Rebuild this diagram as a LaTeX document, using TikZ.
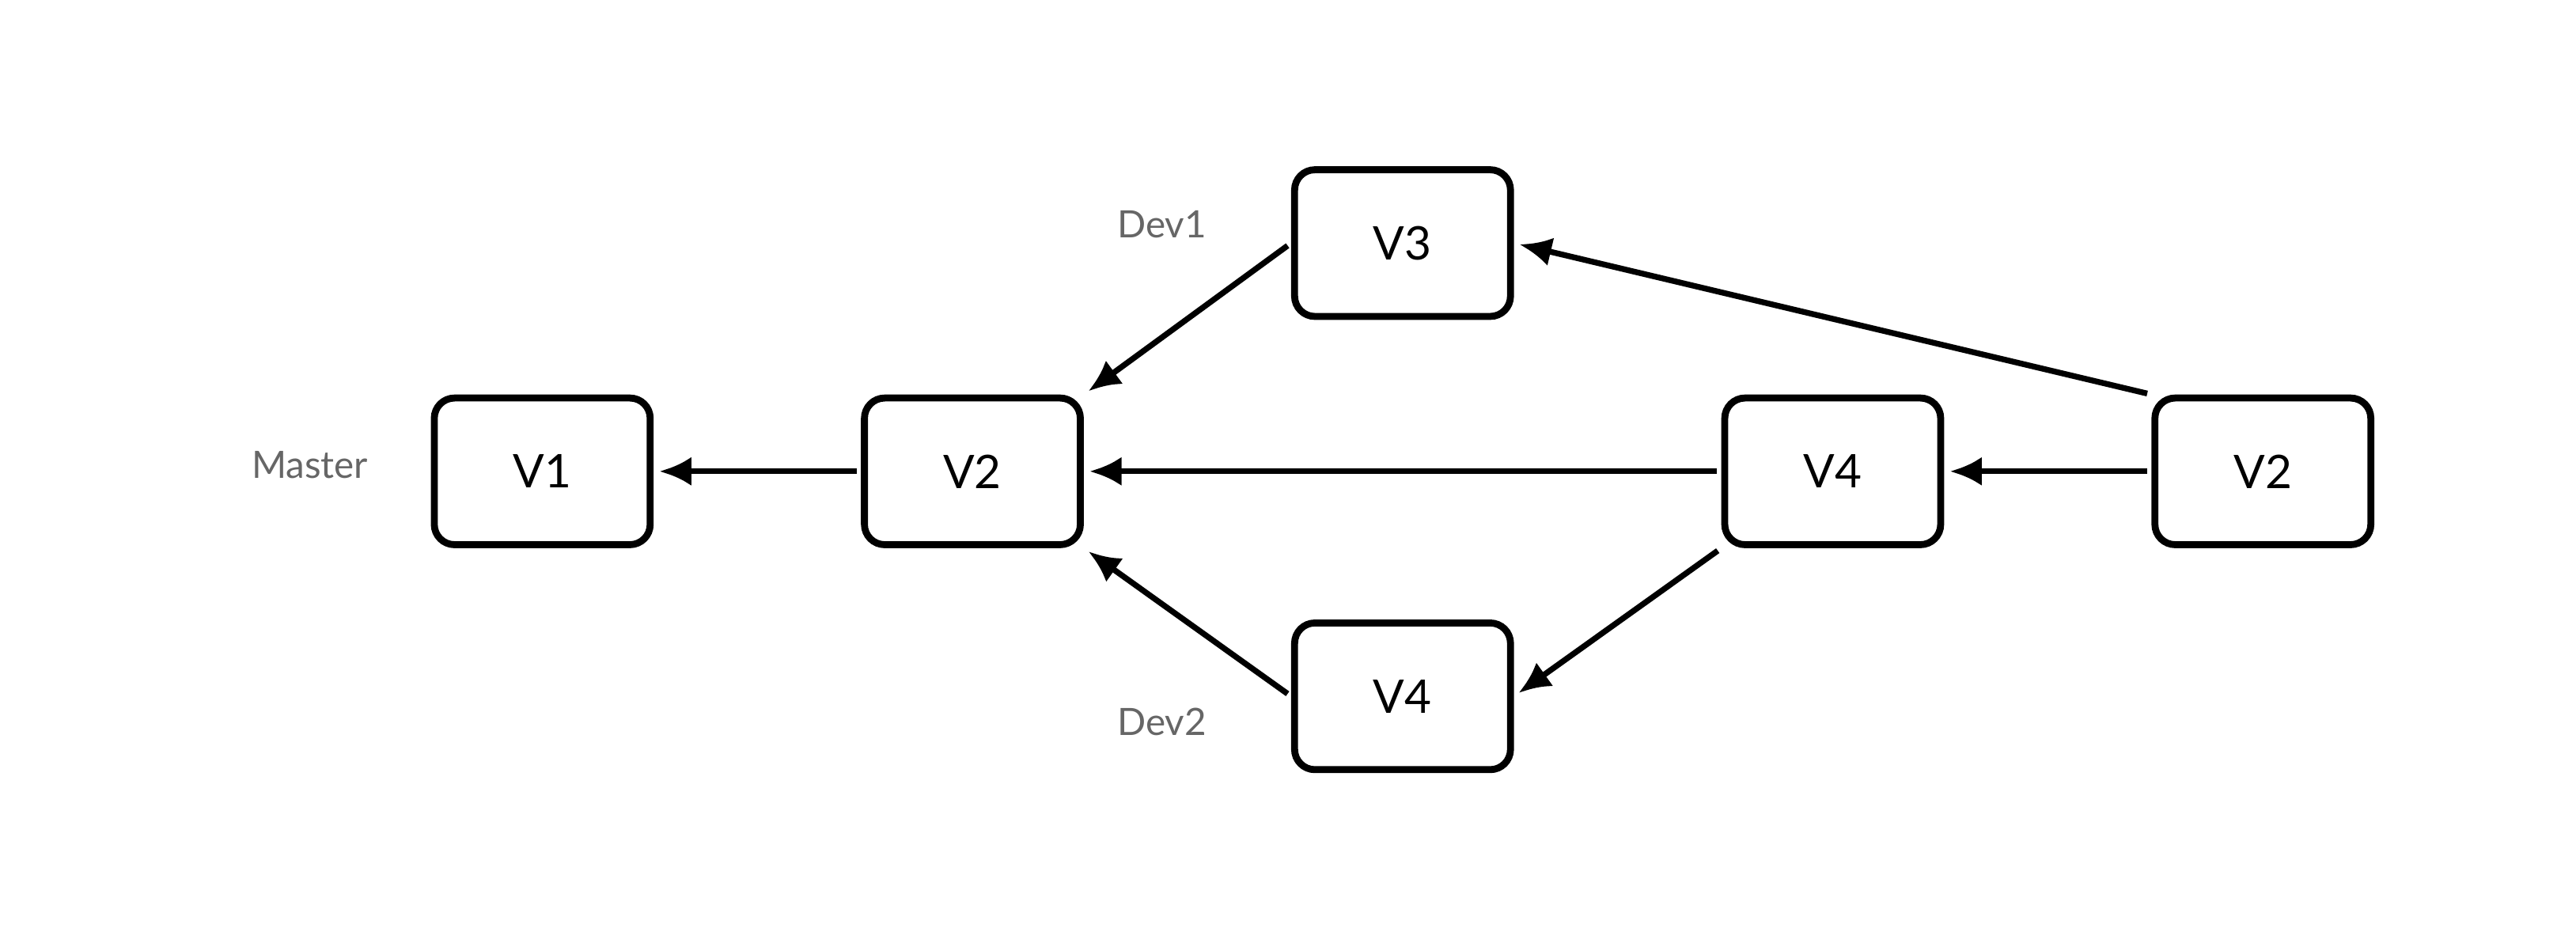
\documentclass[tikz,border=0pt]{standalone}
\usepackage{fontspec}
\setmainfont{Lato}
\usetikzlibrary{arrows.meta}
\begin{document}
\begin{tikzpicture}[
  ver/.style={draw,line width=2.4pt,rounded corners=7pt,minimum width=2.62cm,minimum height=1.78cm,font=\fontsize{16}{18}\selectfont},
  lbl/.style={text=black!60,font=\fontsize{13}{15}\selectfont},
  link/.style={line width=2pt,-{Latex[length=11pt,width=10pt]},shorten <=1.5pt,shorten >=2pt}]
\useasboundingbox (0,0) rectangle (31.26,-11.26);
\node[ver] (v1) at (6.58,-5.72) {V1};
\node[ver] (v2a) at (11.8,-5.72) {V2};
\node[ver] (v3) at (17.02,-2.95) {V3};
\node[ver] (v4a) at (22.24,-5.72) {V4};
\node[ver] (v2b) at (27.46,-5.72) {V2};
\node[ver] (v4b) at (17.02,-8.45) {V4};
\node[lbl] (master) at (3.76,-5.64) {Master};
\node[lbl] (dev1) at (14.1,-2.72) {Dev1};
\node[lbl] (dev2) at (14.1,-8.76) {Dev2};
\draw [link] (v2a.west) -- (v1.east);
\draw [link] (v3.west) -- (v2a.north east);
\draw [link] (v4a.west) -- (v2a.east);
\draw [link] (v4b.west) -- (v2a.south east);
\draw [link] (v2b.north west) -- (v3.east);
\draw [link] (v2b.west) -- (v4a.east);
\draw [link] (v4a.south west) -- (v4b.east);
\end{tikzpicture}
\end{document}
